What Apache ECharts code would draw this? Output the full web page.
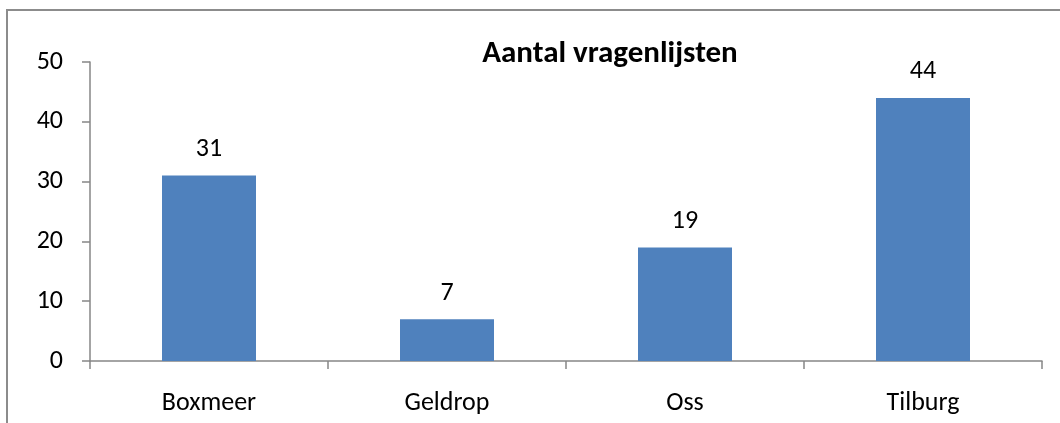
<!DOCTYPE html>
<html>
<head>
<meta charset="utf-8">
<style>
  html, body { margin: 0; padding: 0; background: #fff; }
  #chart { width: 1060px; height: 423px; }
</style>
<script src="https://cdn.jsdelivr.net/npm/echarts@6/dist/echarts.min.js"></script>
</head>
<body>
<div id="chart"></div>
<script>
  // data
  const titleText = 'Aantal vragenlijsten';
  const categories = ['Boxmeer', 'Geldrop', 'Oss', 'Tilburg'];
  const values = [31, 7, 19, 44];
  const yTicks = [0, 10, 20, 30, 40, 50];

  const fontFamily = 'Calibri, Carlito, "Liberation Sans", Arial, sans-serif';
  const axisGray = '#868686';

  const chart = echarts.init(document.getElementById('chart'));
  chart.setOption({
    animation: false,
    backgroundColor: '#fff',
    graphic: [{
      type: 'rect',
      shape: { x: 7, y: 10, width: 1100, height: 500 },
      style: { fill: 'none', stroke: '#8c8c8c', lineWidth: 2 },
      silent: true
    }],
    title: {
      text: titleText,
      left: 605,
      top: 34,
      textAlign: 'center',
      textStyle: { fontFamily, fontSize: 31, fontWeight: 'bold', color: '#000' }
    },
    grid: { left: 90, right: 18, top: 62, bottom: 62, containLabel: false },
    xAxis: {
      type: 'category',
      data: categories,
      axisLine: { lineStyle: { color: axisGray, width: 1.5 } },
      axisTick: { show: true, length: 8, lineStyle: { color: axisGray, width: 1.5 } },
      axisLabel: { margin: 29, fontFamily, fontSize: 26, color: '#000' },
      splitLine: { show: false }
    },
    yAxis: {
      type: 'value',
      min: yTicks[0],
      max: yTicks[yTicks.length - 1],
      interval: yTicks[1] - yTicks[0],
      axisLine: { show: true, lineStyle: { color: axisGray, width: 1.5 } },
      axisTick: { show: true, length: 8, lineStyle: { color: axisGray, width: 1.5 } },
      axisLabel: { margin: 27, fontFamily, fontSize: 26, color: '#000' },
      splitLine: { show: false }
    },
    series: [{
      type: 'bar',
      data: values,
      barWidth: 94,
      itemStyle: { color: '#4F81BD' },
      label: {
        show: true,
        position: 'top',
        distance: 13,
        fontFamily,
        fontSize: 26,
        color: '#000'
      }
    }]
  });
</script>
</body>
</html>
